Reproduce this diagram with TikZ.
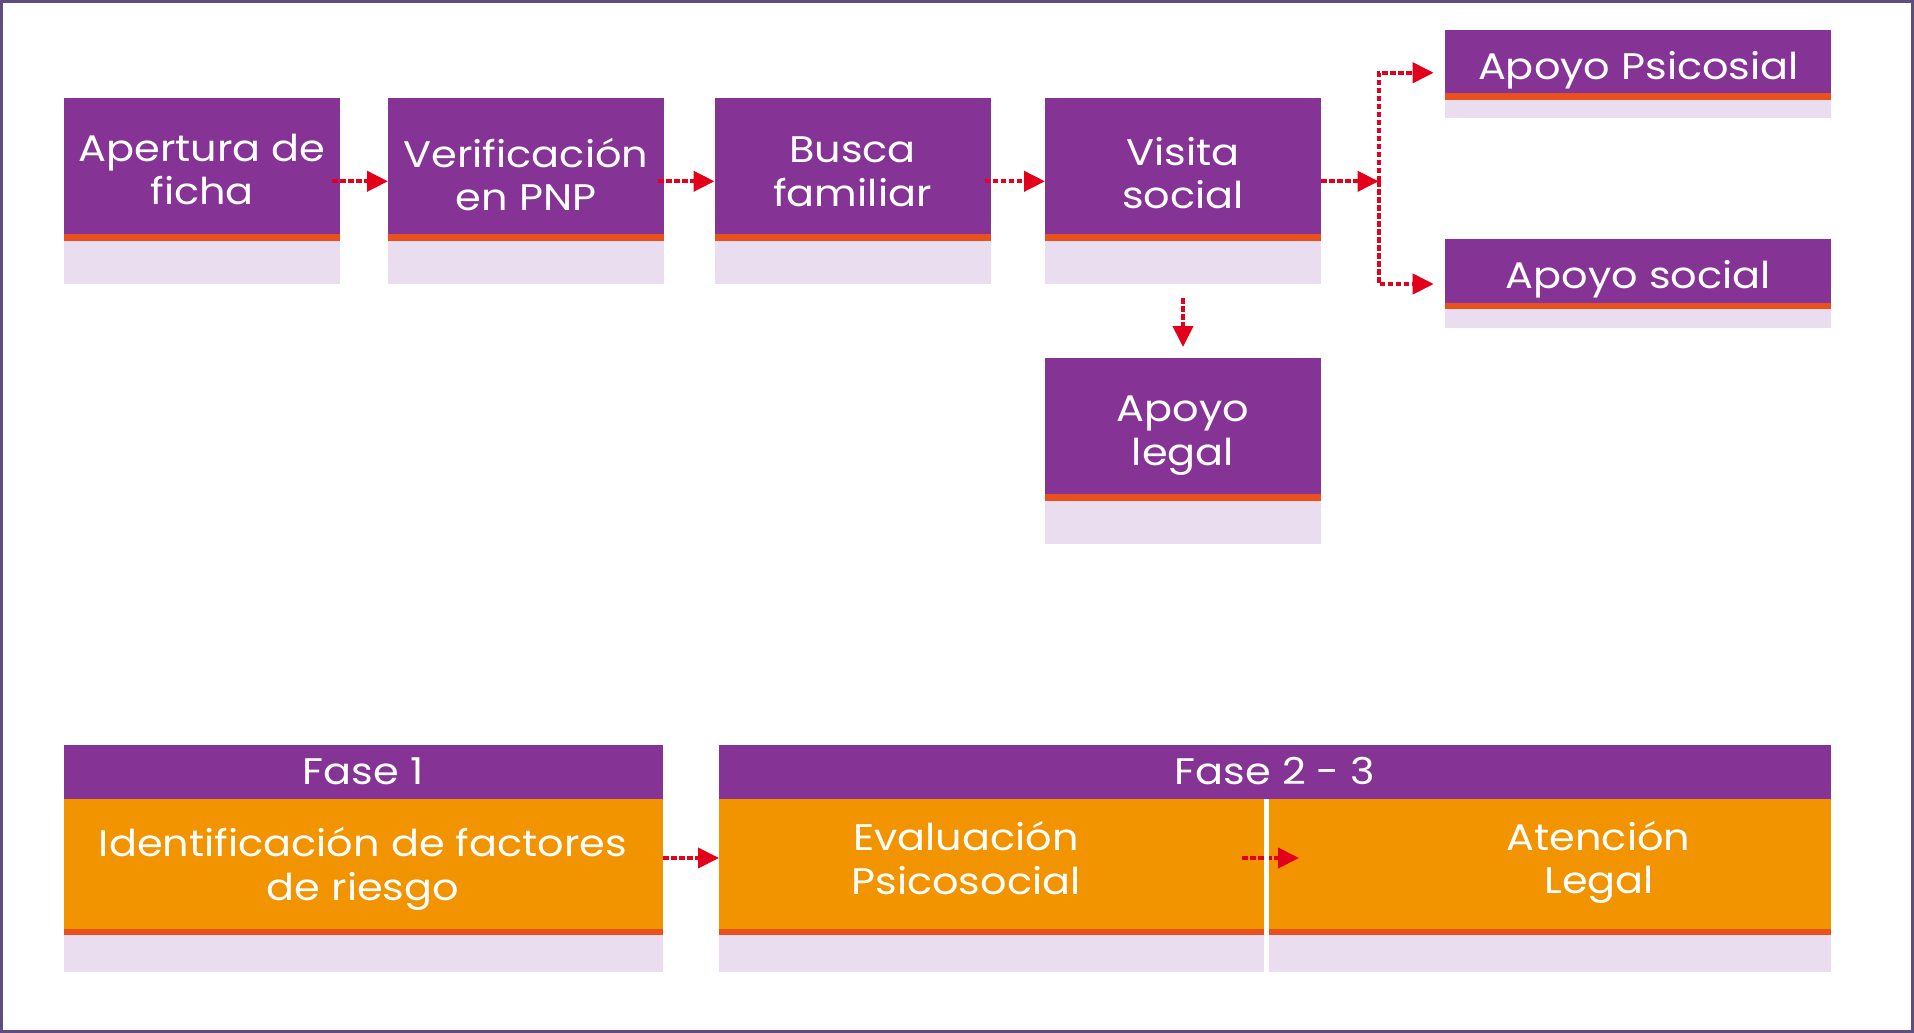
\documentclass[tikz,border=0pt]{standalone}
\usepackage{fontspec}
\setmainfont{Poppins}[FakeStretch=1.12]
\usetikzlibrary{arrows.meta,calc}
\definecolor{boxpurple}{HTML}{853496}
\definecolor{boxorange}{HTML}{F29400}
\definecolor{stripecol}{HTML}{E8501E}
\definecolor{lavcol}{HTML}{EBDDF0}
\definecolor{arrowred}{HTML}{E2001A}
\definecolor{framecol}{HTML}{5F4D80}
\newcommand\boxtail[4]{%
  \fill[stripecol] (#1.south west) rectangle ++(#2,#3);
  \fill[lavcol] ($(#1.south west)+(0,#3)$) rectangle ++(#2,#4);}
\begin{document}
\begin{tikzpicture}[x=1pt,y=-1pt,
  pbox/.style={fill=boxpurple, draw=none, inner sep=0pt, outer sep=0pt},
  obox/.style={fill=boxorange, draw=none, inner sep=0pt, outer sep=0pt},
  lbl/.style={text=white, font=\fontsize{37}{43}\selectfont, inner sep=0pt, anchor=base},
  dotarrow/.style={draw=arrowred, line width=4pt, dash pattern=on 5.5pt off 2.5pt,
    -{Triangle[length=21pt,width=20pt]}},
  dotline/.style={draw=arrowred, line width=4pt, dash pattern=on 5.5pt off 2.5pt}]
\useasboundingbox (0,0) rectangle (1914,1033);
\fill[white] (0,0) rectangle (1914,1033);
\draw[framecol, line width=3pt] (1.5,1.5) rectangle (1912.5,1031);

% top row boxes
\node[pbox, minimum width=276, minimum height=136] (apertura) at (202.2,166.3) {};
\node[pbox, minimum width=276, minimum height=136] (verif) at (526,166.3) {};
\node[pbox, minimum width=276, minimum height=136] (busca) at (852.5,166.3) {};
\node[pbox, minimum width=276, minimum height=136] (visita) at (1183,166.3) {};
\node[pbox, minimum width=276, minimum height=136] (legal) at (1183,426) {};
\node[pbox, minimum width=386, minimum height=62.7] (psi) at (1637.7,61.35) {};
\node[pbox, minimum width=386, minimum height=64] (soc) at (1637.7,271.3) {};
\boxtail{apertura}{276}{6.5}{43}
\boxtail{verif}{276}{6.5}{43}
\boxtail{busca}{276}{6.5}{43}
\boxtail{visita}{276}{6.5}{43}
\boxtail{legal}{276}{6.5}{43}
\boxtail{psi}{386}{7}{18.6}
\boxtail{soc}{386}{6}{19}

% top row texts
\node[lbl] (tap1) at (202.2,161) {Apertura de};
\node[lbl] (tap2) at (202.2,204) {ficha};
\node[lbl] (tve1) at (526,167) {Verificación};
\node[lbl] (tve2) at (526,210) {en PNP};
\node[lbl] (tbu1) at (852.5,162) {Busca};
\node[lbl] (tbu2) at (852.5,206) {familiar};
\node[lbl] (tvi1) at (1183,165) {Visita};
\node[lbl] (tvi2) at (1183,208.3) {social};
\node[lbl] (tle1) at (1183,421) {Apoyo};
\node[lbl] (tle2) at (1183,465) {legal};
\node[lbl] (tps) at (1638.5,79.3) {Apoyo Psicosial};
\node[lbl] (tso) at (1638.5,288.3) {Apoyo social};

% top row connectors
\coordinate (br) at (1378.6,181.3);
\draw[dotarrow] ($(apertura.east)+(-8,15)$) -- ($(verif.west)+(0,15)$);
\draw[dotarrow] ($(verif.east)+(-6,15)$) -- ($(busca.west)+(0,15)$);
\draw[dotarrow] ($(busca.east)+(-6,15)$) -- ($(visita.west)+(0,15)$);
\draw[dotarrow] ($(visita.east)+(0,15)$) -- (br);
\draw[dotarrow] (br) |- ($(psi.west)+(-11,11.4)$);
\draw[dotarrow] (br) |- ($(soc.west)+(-11,12.7)$);
\draw[dotarrow] ($(visita.south)+(0,64)$) -- ($(legal.north)+(0,-11)$);

% bottom section
\node[pbox, minimum width=599.5, minimum height=54] (f1head) at (363.25,772) {};
\node[obox, minimum width=599.5, minimum height=130] (f1body) at (363.25,864) {};
\node[pbox, minimum width=1112, minimum height=54] (f2head) at (1275,772) {};
\node[obox, minimum width=547.5, minimum height=130] (evalc) at (992.75,864) {};
\node[obox, minimum width=564.5, minimum height=130] (atenc) at (1548.75,864) {};
\boxtail{f1body}{599.5}{5.5}{37}
\boxtail{evalc}{1112}{5.5}{37}

\node[lbl] (tf1) at (363,784.5) {Fase 1};
\node[lbl] (tf2) at (1275,784.5) {Fase 2 - 3};
\node[lbl] (tid1) at (363,856.7) {Identificación de factores};
\node[lbl] (tid2) at (363,900) {de riesgo};
\node[lbl] (tev1) at (966,850.4) {Evaluación};
\node[lbl] (tev2) at (966,894) {Psicosocial};
\node[lbl] (tat1) at (1598.5,850.7) {Atención};
\node[lbl] (tat2) at (1599,893.3) {Legal};

\draw[dotarrow] ($(f1body.east)+(0,-6)$) -- ($(evalc.west)+(0,-6)$);
\draw[dotarrow] ($(evalc.east)+(-24.5,-6)$) -- ($(atenc.west)+(32.5,-6)$);
\draw[white, line width=4.5pt] (evalc.north east) -- ($(evalc.south east)+(0,42.5)$);
\end{tikzpicture}
\end{document}
